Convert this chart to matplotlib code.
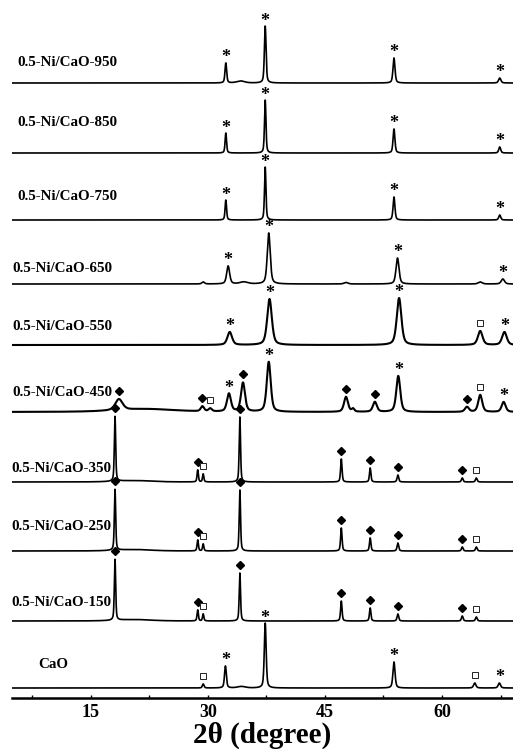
"""
XRD patterns of CaO and 0.5-Ni/CaO calcined at 150-950 °C,
stacked with phase markers (* CaO, ◆ Ca(OH)2, □ CaCO3).
"""

import matplotlib
matplotlib.use("Agg")
import matplotlib.pyplot as plt
import numpy as np

SERIF = ["Liberation Serif", "DejaVu Serif"]

# Sample names, top to bottom
samples = ["0.5-Ni/CaO-950", "0.5-Ni/CaO-850", "0.5-Ni/CaO-750",
           "0.5-Ni/CaO-650", "0.5-Ni/CaO-550", "0.5-Ni/CaO-450",
           "0.5-Ni/CaO-350", "0.5-Ni/CaO-250", "0.5-Ni/CaO-150", "CaO"]

# Reflections per sample: (2theta, intensity, fwhm, phase marker)
peaks_950 = [(32.3, 20, 0.25, "*"), (34.2, 2, 1.2, None), (37.35, 57, 0.25, "*"),
             (53.85, 25, 0.3, "*"), (67.4, 5, 0.35, "*")]
peaks_850 = [(32.3, 20, 0.22, "*"), (37.35, 53, 0.22, "*"),
             (53.85, 24, 0.28, "*"), (67.4, 6, 0.3, "*")]
peaks_750 = [(32.3, 20, 0.22, "*"), (37.35, 53, 0.22, "*"),
             (53.85, 23, 0.28, "*"), (67.4, 5, 0.3, "*")]
peaks_650 = [(29.4, 2, 0.4, None), (32.6, 18, 0.45, "*"), (34.6, 2, 1.2, None),
             (37.8, 51, 0.45, "*"), (47.7, 1.5, 0.6, None), (54.3, 26, 0.45, "*"),
             (64.9, 2, 0.6, None), (67.8, 5, 0.5, "*")]
peaks_550 = [(32.8, 13, 0.7, "*"), (37.9, 46, 0.7, "*"), (54.5, 47, 0.7, "*"),
             (64.9, 14, 0.7, "□"), (68.0, 13, 0.7, "*")]
peaks_450 = [(18.6, 11, 1.1, "◆"), (22.0, 3, 9.0, None), (29.3, 5, 0.5, "◆"),
             (30.3, 3, 0.5, "□"), (32.7, 18, 0.6, "*"), (34.5, 29, 0.6, "◆"),
             (37.8, 50, 0.6, "*"), (47.7, 15, 0.6, "◆"), (48.6, 3, 0.4, None),
             (51.4, 10, 0.6, "◆"), (54.4, 36, 0.6, "*"), (63.2, 5, 0.6, "◆"),
             (64.9, 17, 0.6, "□"), (67.9, 10, 0.6, "*")]
peaks_350 = [(18.1, 65, 0.2, "◆"), (20.5, 1.5, 5.0, None), (28.7, 12, 0.2, "◆"),
             (29.4, 8, 0.2, "□"), (34.1, 65, 0.2, "◆"), (47.1, 23, 0.22, "◆"),
             (50.8, 14, 0.22, "◆"), (54.35, 7, 0.25, "◆"), (62.6, 4, 0.25, "◆"),
             (64.4, 4, 0.25, "□")]
peaks_250 = [(18.1, 61, 0.2, "◆"), (20.5, 1.5, 5.0, None), (28.7, 11, 0.2, "◆"),
             (29.4, 7, 0.2, "□"), (34.1, 61, 0.2, "◆"), (47.1, 23, 0.22, "◆"),
             (50.8, 13, 0.22, "◆"), (54.35, 8, 0.25, "◆"), (62.6, 4, 0.25, "◆"),
             (64.4, 4, 0.25, "□")]
peaks_150 = [(18.1, 61, 0.2, "◆"), (20.5, 1.5, 5.0, None), (28.7, 11, 0.2, "◆"),
             (29.4, 7, 0.2, "□"), (34.1, 48, 0.2, "◆"), (47.1, 20, 0.22, "◆"),
             (50.8, 13, 0.22, "◆"), (54.35, 7, 0.25, "◆"), (62.6, 5, 0.25, "◆"),
             (64.4, 4, 0.25, "□")]
peaks_cao = [(29.4, 4, 0.25, "□"), (32.25, 22, 0.28, "*"), (34.3, 1.5, 1.2, None),
             (37.35, 65, 0.28, "*"), (53.85, 26, 0.32, "*"), (64.2, 5, 0.35, "□"),
             (67.35, 5, 0.35, "*")]

all_peaks = [peaks_950, peaks_850, peaks_750, peaks_650, peaks_550,
             peaks_450, peaks_350, peaks_250, peaks_150, peaks_cao]

x_ticks = [15, 30, 45, 60]
x_minor = [7.5, 22.5, 37.5, 52.5, 67.5]

# Layout (pixel units, measured from the top of the figure)
W, H = 513, 749
AXIS_Y = 698
baselines = [83, 153, 220, 284, 345, 412, 482, 551, 621, 688]
label_x = [17, 17, 17, 12, 12, 12, 11, 11, 11, 38]
label_y = [62, 122, 197, 268, 327, 393, 469, 526, 602, 665]


def profile(x, pos, height, fwhm, eta=0.5):
    """Pseudo-Voigt peak of given height."""
    g = np.exp(-4 * np.log(2) * ((x - pos) / fwhm) ** 2)
    lo = 1.0 / (1.0 + 4 * ((x - pos) / fwhm) ** 2)
    return height * (eta * lo + (1 - eta) * g)


def draw_marker(ax, x, y, sym):
    if sym == "*":
        ax.text(x, y - 3, "*", ha="center", va="center", fontsize=13,
                family=SERIF, fontweight="bold", color="black")
    elif sym == "◆":
        ax.plot(x, y, marker="D", ms=4.2, color="black", mec="black")
    elif sym == "□":
        ax.plot(x, y, marker="s", ms=4.0, mfc="white", mec="#222222", mew=0.7)


def main():
    fig = plt.figure(figsize=(W / 100, H / 100), dpi=100)
    ax = fig.add_axes([12 / W, (H - AXIS_Y) / H, (W - 12) / W, AXIS_Y / H])
    ax.set_xlim(4.9, 69.1)
    ax.set_ylim(0, AXIS_Y)

    x = np.linspace(4.9, 69.1, 4000)
    for peaks, base in zip(all_peaks, baselines):
        y0 = AXIS_Y - base
        y = np.zeros_like(x)
        for pos, h, w, _ in peaks:
            y += profile(x, pos, h, w)
        broad = peaks in (peaks_550, peaks_450)
        ax.plot(x, y0 + y, color="black", lw=1.5 if broad else 1.2,
                solid_joinstyle="round")
        for pos, h, w, sym in peaks:
            if sym is None:
                continue
            near = np.abs(x - pos) < max(w, 0.3)
            top = y0 + y[near].max()
            draw_marker(ax, pos, top + 8, sym)

    for name, lx, ly in zip(samples, label_x, label_y):
        fig.text(lx / W, 1 - ly / H, name, ha="left", va="center",
                 fontsize=10.8, family=SERIF, fontweight="bold")

    for side in ("top", "left", "right"):
        ax.spines[side].set_visible(False)
    ax.spines["bottom"].set_linewidth(1.8)
    ax.set_yticks([])
    ax.set_xticks(x_ticks)
    ax.set_xticks(x_minor, minor=True)
    ax.tick_params(axis="x", which="both", direction="in", length=2.5,
                   width=1.0, pad=4)
    for lab in ax.get_xticklabels():
        lab.set_family(SERIF)
        lab.set_fontweight("bold")
        lab.set_fontsize(13)
    ax.set_xlabel("2θ (degree)", family=SERIF, fontweight="bold",
                  fontsize=21, labelpad=1)
    ax.patch.set_alpha(0)

    fig.savefig("out.png", dpi=100)
    plt.close(fig)


if __name__ == "__main__":
    main()
